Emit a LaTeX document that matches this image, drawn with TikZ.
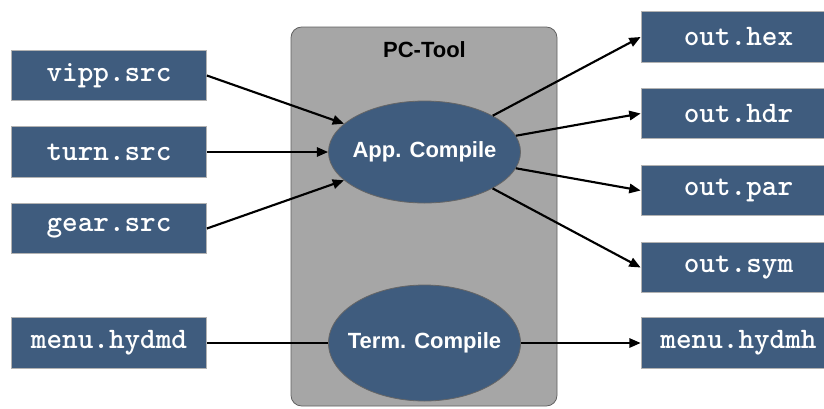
\documentclass[tikz,border=0pt]{standalone}
\usepackage{fontspec}
\setmainfont{Liberation Sans}
\usetikzlibrary{shapes.geometric,arrows.meta}

\definecolor{boxblue}{RGB}{63,92,126}
\definecolor{toolgray}{RGB}{166,166,166}

\tikzstyle{file} = [draw=gray!60,line width=0.8pt,fill=boxblue,text=white,minimum width=146pt,minimum height=38pt,inner sep=0pt,font=\ttfamily\bfseries\fontsize{22.3}{24}\selectfont]
\tikzstyle{compiler} = [ellipse,draw=gray!80!black,line width=0.6pt,fill=boxblue,text=white,inner sep=0pt,inner xsep=-8pt,font=\bfseries\fontsize{16.5}{18}\selectfont]
\tikzstyle{line} = [draw,line width=1.6pt,-{Triangle[length=8.5pt,width=7pt]}]

\begin{document}
\begin{tikzpicture}[x=0.75pt,y=-0.75pt]
\useasboundingbox (0,0) rectangle (824,408);
\draw[fill=toolgray,draw=gray!75!black,line width=0.6pt,rounded corners=8pt] (291,27) rectangle (557,406);
\node (tool) at (424.5,50) {\bfseries\fontsize{16.5}{18}\selectfont PC-Tool};
\node[compiler,minimum width=144pt,minimum height=76.5pt] (app) at (424.5,152) {App. Compile};
\node[compiler,minimum width=144pt,minimum height=87pt] (term) at (424.5,343) {Term. Compile};
\node[file] (vipp) at (109,75.5) {vipp.src};
\node[file] (turn) at (109,152) {turn.src};
\node[file] (gear) at (109,228.5) {gear.src};
\node[file] (menuin) at (109,343) {menu.hydmd};
\node[file] (hex) at (738.5,37) {out.hex};
\node[file] (hdr) at (738.5,113.5) {out.hdr};
\node[file] (par) at (738.5,190.5) {out.par};
\node[file] (sym) at (738.5,267.5) {out.sym};
\node[file] (menuout) at (738.5,343) {menu.hydmh};
\draw[line] (vipp.east) -- (app);
\draw[line] (turn.east) -- (app);
\draw[line] (gear.east) -- (app);
\draw[line] (app) -- (hex.west);
\draw[line] (app) -- (hdr.west);
\draw[line] (app) -- (par.west);
\draw[line] (app) -- (sym.west);
\draw[line width=1.6pt] (menuin.east) -- (term);
\draw[line] (term) -- (menuout.west);
\end{tikzpicture}
\end{document}
